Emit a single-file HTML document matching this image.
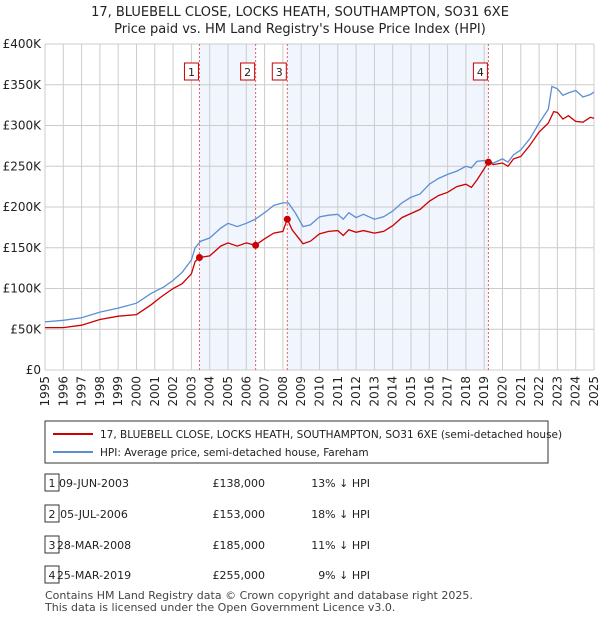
<!DOCTYPE html>
<html><head><meta charset="utf-8"><style>
body{margin:0;background:#fff;font-family:"Liberation Sans",sans-serif;}
svg text{font-family:"DejaVu Sans","Liberation Sans",sans-serif;}
</style></head><body>
<svg id="c" width="600" height="620" xmlns="http://www.w3.org/2000/svg">
<text x="300" y="16" text-anchor="middle" font-size="13" fill="#222">17, BLUEBELL CLOSE, LOCKS HEATH, SOUTHAMPTON, SO31 6XE</text>
<text x="300" y="33" text-anchor="middle" font-size="13" fill="#222">Price paid vs. HM Land Registry's House Price Index (HPI)</text>
<g id="shade"></g><g id="grid"></g><g id="lines"></g><g id="marks"></g><g id="axes"></g>
<g>
<rect x="45" y="421" width="503" height="42" fill="#fff" stroke="#333"/>
<line x1="53" y1="434" x2="93" y2="434" stroke="#cc0000" stroke-width="2"/>
<text x="100" y="438" font-size="10.5" fill="#222">17, BLUEBELL CLOSE, LOCKS HEATH, SOUTHAMPTON, SO31 6XE (semi-detached house)</text>
<line x1="53" y1="452" x2="93" y2="452" stroke="#5b8fd4" stroke-width="2"/>
<text x="100" y="456" font-size="10.5" fill="#222">HPI: Average price, semi-detached house, Fareham</text>
</g>
<g id="table" font-size="11" fill="#222"></g>
<text x="45" y="599" font-size="11" fill="#444">Contains HM Land Registry data © Crown copyright and database right 2025.</text>
<text x="45" y="611" font-size="11" fill="#444">This data is licensed under the Open Government Licence v3.0.</text>
</svg>
<script>
const hpiYears=[1995,1996,1997,1998,1999,2000,2000.8,2001.5,2002,2002.5,2003,2003.2,2003.5,2004,2004.6,2005,2005.5,2006,2006.5,2007,2007.5,2008,2008.3,2008.7,2009.1,2009.5,2010,2010.5,2011,2011.3,2011.6,2012,2012.4,2013,2013.5,2014,2014.5,2015,2015.5,2016,2016.5,2017,2017.5,2018,2018.3,2018.6,2019,2019.5,2020,2020.3,2020.6,2021,2021.5,2022,2022.5,2022.7,2023,2023.3,2023.6,2024,2024.4,2024.8,2025];
const hpiValues=[59,61,64,71,76,82,94,102,110,120,135,150,158,162,174,180,176,180,185,193,202,205,205,192,176,178,188,190,191,185,193,187,191,185,188,195,205,212,216,228,235,240,244,250,248,256,257,254,259,255,264,270,284,303,320,348,345,337,340,343,335,338,341];
const ppYears=[1995,1996,1997,1998,1999,2000,2000.8,2001.3,2002,2002.5,2003,2003.2,2003.44,2004,2004.6,2005,2005.5,2006,2006.5,2007,2007.5,2008,2008.24,2008.5,2009.1,2009.5,2010,2010.5,2011,2011.3,2011.6,2012,2012.4,2013,2013.5,2014,2014.5,2015,2015.5,2016,2016.5,2017,2017.5,2018,2018.3,2018.6,2019.23,2019.5,2020,2020.3,2020.6,2021,2021.5,2022,2022.5,2022.8,2023,2023.3,2023.6,2024,2024.4,2024.8,2025];
const ppValues=[52,52,55,62,66,68,80,89,100,106,118,133,138,140,152,156,152,156,153,161,168,170,185,172,155,158,167,170,171,165,172,169,171,168,170,177,187,192,197,207,214,218,225,228,224,233,255,252,254,250,259,262,276,292,303,317,316,308,312,305,304,310,309];
const saleLabels=["1","2","3","4"];
const saleYears=[2003.44,2006.51,2008.24,2019.23];
const salePrices=[138,153,185,255];
const saleDates=["09-JUN-2003","05-JUL-2006","28-MAR-2008","25-MAR-2019"];
const salePriceText=["£138,000","£153,000","£185,000","£255,000"];
const saleHpiText=["13% ↓ HPI","18% ↓ HPI","11% ↓ HPI","9% ↓ HPI"];
const yTicks=[0,50,100,150,200,250,300,350,400];
const yTickLabels=["£0","£50K","£100K","£150K","£200K","£250K","£300K","£350K","£400K"];
const x0=45,x1=594,y0=370,y1=44;
const X=y=>x0+(y-1995)*(x1-x0)/30;
const Y=v=>y0-v*(y0-y1)/400;
const NS="http://www.w3.org/2000/svg";
function mk(p,t,a){const e=document.createElementNS(NS,t);for(const k in a)e.setAttribute(k,a[k]);document.getElementById(p).appendChild(e);return e;}
[[0,1],[2,3]].forEach((p,i)=>{const r=mk('shade','rect',{x:X(saleYears[p[0]]),y:y1,width:X(saleYears[p[1]])-X(saleYears[p[0]]),height:y0-y1,fill:'#eef3fc',opacity:0.8});

});
yTicks.forEach((v,i)=>{const l=mk('grid','line',{x1:x0,x2:x1,y1:Y(v),y2:Y(v),stroke:'#ccc'});


const t=mk('axes','text',{x:x0-4,y:Y(v)+4,'text-anchor':'end','font-size':12,fill:'#222'});t.textContent=yTickLabels[i];

});
for(let yr=1995;yr<=2025;yr++){const l=mk('grid','line',{x1:X(yr),x2:X(yr),y1:y1,y2:y0,stroke:'#ccc'});


const t=mk('axes','text',{x:0,y:0,'text-anchor':'end','font-size':12,fill:'#222',transform:`translate(${X(yr)+4},${y0+6}) rotate(-90)`});t.textContent=yr;

}
function path(xs,vs){return xs.map((x,i)=>(i?'L':'M')+X(x).toFixed(1)+','+Y(vs[i]).toFixed(1)).join('');}
const hp=mk('lines','path',{d:path(hpiYears,hpiValues),fill:'none',stroke:'#5b8fd4','stroke-width':1.3});


const pp=mk('lines','path',{d:path(ppYears,ppValues),fill:'none',stroke:'#cc0000','stroke-width':1.3});


saleYears.forEach((s,i)=>{const l=mk('marks','line',{x1:X(s),x2:X(s),y1:y1,y2:y0,stroke:'#e06060','stroke-dasharray':'2,2'});


const c=mk('marks','circle',{cx:X(s),cy:Y(salePrices[i]),r:3.5,fill:'#cc0000'});


const b=mk('marks','rect',{x:X(s)-15,y:63,width:14,height:17,fill:'#fff',stroke:'#cc0000'});


const t=mk('marks','text',{x:X(s)-8,y:76,'text-anchor':'middle','font-size':11,fill:'#222'});t.textContent=saleLabels[i];

});
const rowY=[483,514,545,575];
saleLabels.forEach((s,i)=>{const y=rowY[i];
const b=mk('table','rect',{x:45,y:y-9,width:14,height:17,fill:'#fff',stroke:'#333'});


const a=mk('table','text',{x:52,y:y+4,'text-anchor':'middle'});a.textContent=s;


const d=mk('table','text',{x:94,y:y+4,'text-anchor':'middle'});d.textContent=saleDates[i];


const p=mk('table','text',{x:265,y:y+4,'text-anchor':'end'});p.textContent=salePriceText[i];


const h=mk('table','text',{x:370,y:y+4,'text-anchor':'end'});h.textContent=saleHpiText[i];

});
</script>
</body></html>
